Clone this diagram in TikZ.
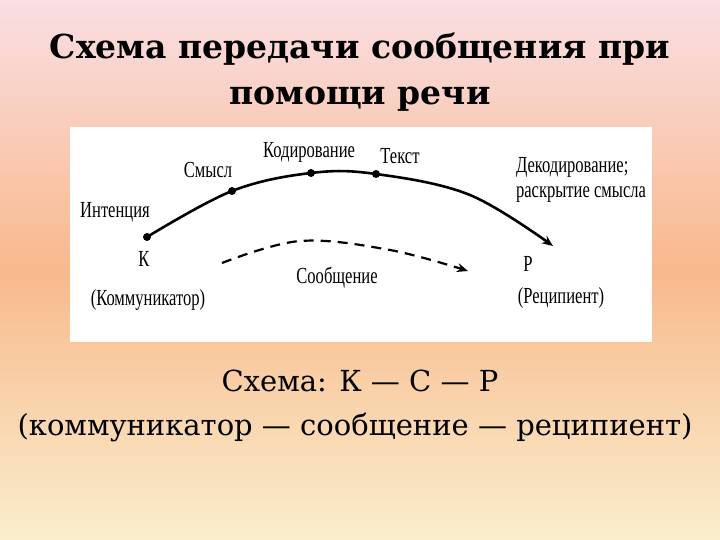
\documentclass[tikz,border=0pt]{standalone}
\usepackage{fontspec}
\setmainfont{Liberation Serif}
\newfontfamily\dvs{DejaVu Serif}
\usetikzlibrary{arrows.meta}
\begin{document}
\begin{tikzpicture}[x=1pt,y=-1pt,
  lbl/.style={font=\fontsize{23}{25}\selectfont, xscale=0.72, inner sep=0pt, align=left},
  dotm/.style={circle,fill=black,inner sep=0pt,minimum size=8pt}]
\shade[top color={rgb,255:red,250;green,222;blue,228}, bottom color={rgb,255:red,250;green,238;blue,205}, middle color={rgb,255:red,248;green,185;blue,140}] (0,0) rectangle (720,540);
\useasboundingbox (0,0) rectangle (720,540);
\node[font=\dvs\fontsize{33}{46}\selectfont\bfseries, align=center] (title) at (360,72) {Схема передачи сообщения при\\помощи речи};
\fill[white] (70,127) rectangle (652,342);
\node[dotm] (k) at (147,237) {};
\node[dotm] (s) at (232,191) {};
\node[dotm] (kd) at (311,173) {};
\node[dotm] (t) at (376,174) {};
\coordinate (pend) at (553,246);
\draw[line width=2.6pt,-{Stealth[length=11pt,width=9pt]}] plot[smooth,tension=0.6] coordinates {(k.center) (s.center) (kd.center) (t.center) (470,195) (pend)};
\coordinate (d1) at (222,263);
\coordinate (d2) at (300,241);
\coordinate (d3) at (468,271);
\draw[line width=2.2pt,dash pattern=on 10pt off 7pt,-{Stealth[length=11pt,width=9pt]}] plot[smooth,tension=0.6] coordinates {(d1) (d2) (390,250) (d3)};
\node[lbl] (li) at (115,212) {Интенция};
\node[lbl] (ls) at (208,170) {Смысл};
\node[lbl] (lk) at (309,152) {Кодирование};
\node[lbl] (lt) at (400,156) {Текст};
\node[lbl] (ld) at (581,180) {Декодирование;\\раскрытие смысла};
\node[lbl] (lK) at (144,259) {К};
\node[lbl] (lkom) at (148,300) {(Коммуникатор)};
\node[lbl] (lsoob) at (337,278) {Сообщение};
\node[lbl] (lP) at (528,264) {Р};
\node[lbl] (lrec) at (561,298) {(Реципиент)};
\node[font=\dvs\fontsize{29}{32}\selectfont] (sch) at (360,381) {Схема: К — С — Р};
\node[font=\dvs\fontsize{29}{32}\selectfont] (sch2) at (355,427) {(коммуникатор — сообщение — реципиент)};
\end{tikzpicture}
\end{document}
